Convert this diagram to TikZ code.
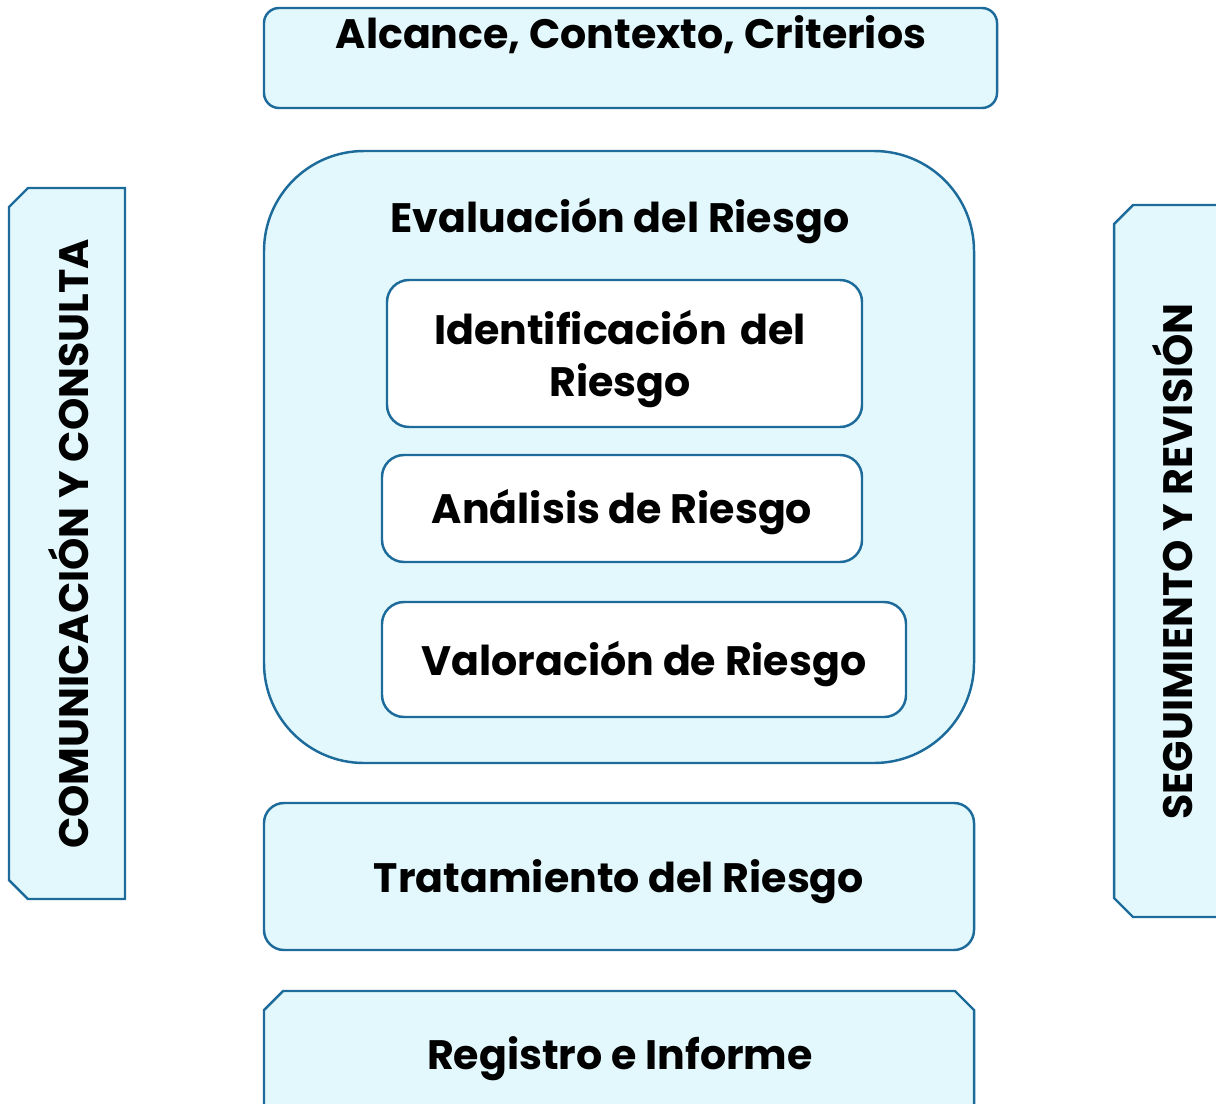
\documentclass[tikz,border=0pt]{standalone}
\usepackage{fontspec}
\setmainfont{Poppins}

\definecolor{boxline}{HTML}{1C6B9B}
\definecolor{boxfill}{HTML}{E3F8FC}

\tikzset{
  panel/.style={draw=boxline, line width=0.7pt, fill=boxfill, rounded corners=1.5mm, inner sep=0pt},
  whitebox/.style={draw=boxline, line width=0.7pt, fill=white, rounded corners=2.2mm, inner sep=0pt},
  sidebox/.style={draw=boxline, line width=0.7pt, fill=boxfill},
  txt/.style={font=\bfseries\fontsize{11.7}{14.8}\selectfont, align=center, inner sep=0pt}
}

\begin{document}
\begin{tikzpicture}
\useasboundingbox (0,0) rectangle (12.16,-11.03);

\begin{scope}
\clip (0,0) rectangle (12.16,-11.03);

% top
\node[panel, minimum width=7.33cm, minimum height=1.00cm] (alcance) at (6.305,-0.58) {};
\node[txt] (alcanceT) at (6.31,-0.35) {Alcance, Contexto, Criterios};

% evaluacion
\node[panel, rounded corners=1cm, minimum width=7.10cm, minimum height=6.12cm] (eval) at (6.19,-4.57) {};
\node[txt] (evalT) at (6.20,-2.21) {Evaluación del Riesgo};

\node[whitebox, minimum width=4.75cm, minimum height=1.47cm] (ident) at (6.245,-3.535) {};
\node[txt, text width=4.6cm] (identT) at (6.20,-3.59) {Identificación del\\Riesgo};

\node[whitebox, minimum width=4.80cm, minimum height=1.07cm] (analisis) at (6.22,-5.085) {};
\node[txt] (analisisT) at (6.22,-5.12) {Análisis de Riesgo};

\node[whitebox, minimum width=5.24cm, minimum height=1.15cm] (valor) at (6.44,-6.595) {};
\node[txt] (valorT) at (6.44,-6.64) {Valoración de Riesgo};

% tratamiento
\node[panel, rounded corners=2mm, minimum width=7.10cm, minimum height=1.47cm] (trat) at (6.19,-8.765) {};
\node[txt] (tratT) at (6.19,-8.82) {Tratamiento del Riesgo};

% registro
\path[sidebox] (2.64,-11.3) -- (2.64,-10.10) -- (2.83,-9.91) -- (9.55,-9.91)
  -- (9.74,-10.10) -- (9.74,-11.3) -- cycle;
\node[txt] (regisT) at (6.20,-10.59) {Registro e Informe};

% laterales
\path[sidebox] (0.28,-1.88) -- (1.25,-1.88) -- (1.25,-8.99) -- (0.28,-8.99)
  -- (0.09,-8.80) -- (0.09,-2.07) -- cycle;
\node[txt, rotate=90] (comunT) at (0.69,-5.44) {COMUNICACIÓN Y CONSULTA};

\path[sidebox] (11.33,-2.05) -- (12.40,-2.05) -- (12.40,-9.17) -- (11.33,-9.17)
  -- (11.14,-8.98) -- (11.14,-2.24) -- cycle;
\node[txt, rotate=90] (seguiT) at (11.73,-5.615) {SEGUIMIENTO Y REVISIÓN};
\end{scope}
\end{tikzpicture}
\end{document}
